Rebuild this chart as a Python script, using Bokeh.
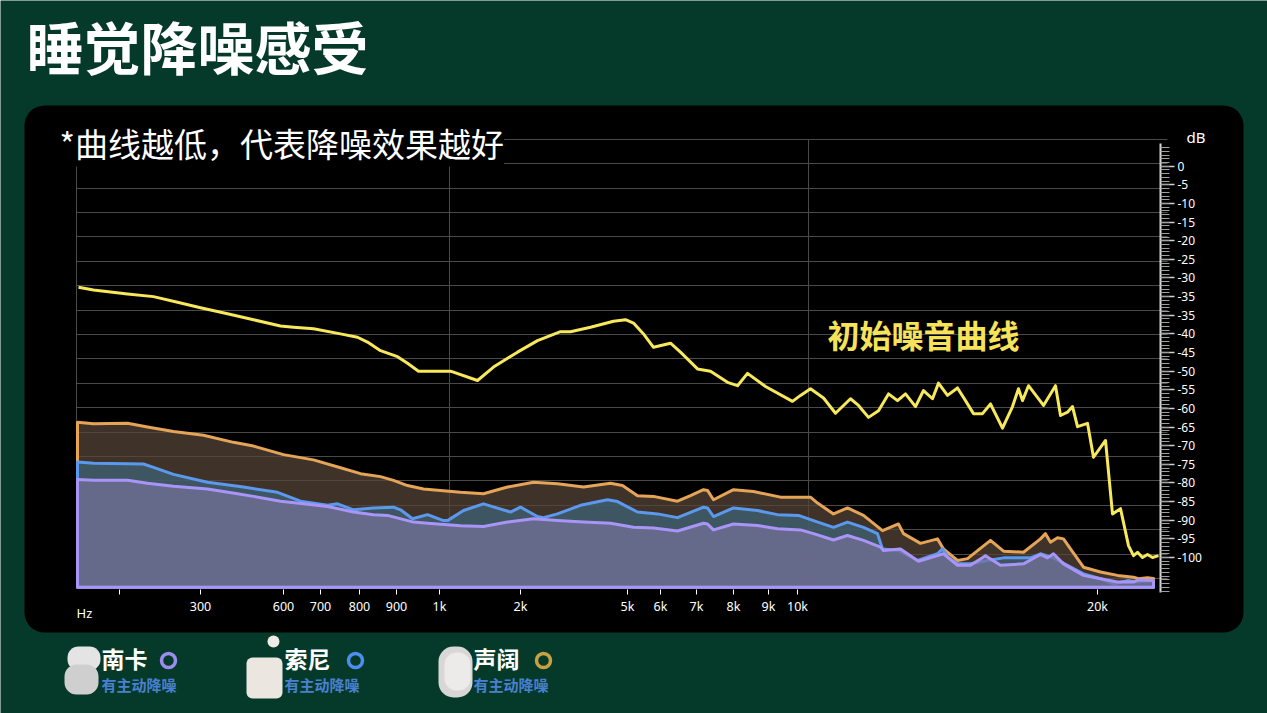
import re
from bokeh.plotting import figure
from bokeh.models import FixedTicker, Label, BoxAnnotation, Range1d
from bokeh.embed import file_html
from bokeh.resources import INLINE

# ---------------- data (x = position along the frequency axis, value = dB) ----------------
X_TICKS = [43, 124, 207, 244, 283, 320, 363, 444, 551, 584, 620, 657, 692, 721, 1021]
X_TICK_LABELS = ["", "300", "600", "700", "800", "900", "1k", "2k", "5k", "6k", "7k", "8k", "9k", "10k", "20k"]
X_GRID = [0, 373, 732]

Y_TICKS = [5, 0, -5, -10, -15, -20, -25, -30, -35, -40, -45, -50, -55, -60, -65, -70,
           -75, -80, -85, -90, -95, -100]
Y_TICK_LABELS = ["0", "-5", "-10", "-15", "-20", "-25", "-30", "-35", "-35", "-40", "-45",
                 "-50", "-55", "-60", "-65", "-70", "-75", "-80", "-85", "-90", "-95", "-100"]

# 初始噪音曲线 (yellow)
YEL_X = [2, 17, 51, 77, 101, 124, 151, 177, 204, 217, 237, 264, 281, 291, 304, 321, 331, 342, 361, 374,
         401, 417, 441, 461, 484, 494, 514, 537, 549, 557, 567, 577, 594, 604, 621, 634, 651, 661, 671, 689,
         716, 724, 734, 747, 759, 774, 782, 792, 802, 812, 821, 829, 839, 847, 856, 862, 871, 881, 889, 897,
         906, 914, 926, 936, 942, 946, 952, 967, 979, 984, 991, 996, 1001, 1011, 1017, 1029, 1036, 1044, 1052, 1057,
         1061, 1066, 1071, 1076, 1082]
YEL_DB = [-27.5, -28.2, -29.3, -30.0, -31.5, -33.0, -34.6, -36.2, -37.9, -38.2,
          -38.6, -40.0, -40.9, -42.2, -44.5, -46.1, -47.9, -50.0, -50.0, -50.0,
          -52.5, -48.9, -44.9, -41.8, -39.4, -39.4, -38.2, -36.6, -36.2, -37.1,
          -40.0, -43.6, -42.5, -44.9, -49.4, -50.0, -53.0, -53.9, -50.6, -54.1,
          -58.1, -56.5, -54.7, -57.2, -61.3, -57.4, -59.2, -62.4, -60.6, -56.1,
          -57.9, -56.1, -59.5, -55.2, -57.4, -53.2, -56.5, -54.5, -57.9, -61.4,
          -61.4, -58.8, -65.3, -59.5, -54.7, -57.9, -53.9, -59.2, -53.9, -61.9,
          -61.0, -59.5, -64.9, -64.0, -73.1, -68.6, -88.3, -86.9, -96.8, -99.5,
          -98.6, -100.0, -99.2, -100.0, -99.5]

# 声阔 (orange)
ORG_X = [1, 17, 51, 71, 97, 127, 157, 177, 207, 237, 264, 284, 304, 317, 331, 347, 364, 384, 407, 431,
         457, 481, 507, 534, 546, 561, 577, 601, 614, 627, 631, 637, 657, 677, 704, 724, 734, 741, 757, 771,
         787, 806, 822, 827, 844, 861, 867, 881, 891, 914, 927, 947, 964, 969, 974, 981, 987, 994, 1007, 1024,
         1041, 1057, 1062, 1071, 1077]
ORG_DB = [-63.7, -64.1, -64.0, -65.0, -66.2, -67.2, -69.1, -70.1, -72.4, -73.8,
          -75.9, -77.5, -78.3, -79.3, -80.7, -81.6, -82.0, -82.5, -82.9, -81.1,
          -79.8, -80.2, -81.1, -80.1, -80.7, -83.4, -83.6, -84.9, -83.4, -81.8,
          -82.0, -84.5, -81.8, -82.3, -83.8, -83.8, -83.8, -85.4, -88.3, -86.7,
          -88.7, -92.8, -91.0, -93.6, -96.2, -95.0, -97.7, -100.8, -100.3, -95.4,
          -98.3, -98.6, -95.0, -93.6, -95.9, -94.7, -95.0, -97.7, -102.6, -103.9,
          -104.8, -105.3, -105.7, -105.4, -105.6]

# 索尼 (blue)
BLU_X = [1, 17, 67, 77, 97, 131, 167, 201, 224, 251, 261, 277, 297, 317, 324, 336, 351, 367, 371, 387,
         407, 434, 444, 461, 467, 481, 504, 531, 541, 561, 581, 601, 627, 631, 637, 657, 681, 701, 722, 737,
         757, 771, 787, 801, 806, 822, 841, 861, 866, 872, 881, 894, 911, 927, 954, 964, 977, 991, 1007, 1024,
         1037, 1051, 1061, 1077]
BLU_DB = [-74.4, -74.7, -74.9, -75.8, -77.7, -79.8, -81.1, -82.5, -84.9, -86.0,
          -85.6, -87.2, -86.7, -86.5, -87.2, -89.6, -88.5, -90.1, -90.1, -87.4,
          -85.6, -87.8, -86.5, -89.0, -89.3, -88.3, -86.0, -84.5, -85.0, -87.8,
          -88.3, -89.3, -86.5, -86.7, -89.0, -86.7, -87.4, -88.5, -88.7, -90.1,
          -91.9, -90.5, -91.9, -93.6, -97.7, -98.1, -100.8, -99.0, -97.7, -100.1,
          -101.7, -101.7, -100.8, -100.1, -100.1, -99.0, -100.1, -102.1, -104.4, -105.7,
          -107.1, -106.2, -106.6, -106.2]

# 南卡 (purple)
PUR_X = [1, 17, 51, 71, 97, 131, 161, 177, 204, 227, 251, 277, 297, 311, 337, 351, 371, 384, 407, 431,
         457, 481, 507, 534, 557, 577, 601, 627, 631, 637, 657, 681, 701, 724, 737, 757, 771, 787, 804, 807,
         824, 842, 861, 867, 881, 894, 909, 924, 947, 964, 971, 977, 987, 1007, 1024, 1041, 1057, 1062, 1077]
PUR_DB = [-79.1, -79.3, -79.3, -80.1, -80.9, -81.6, -82.9, -83.6, -84.9, -85.6,
          -86.3, -87.8, -88.5, -88.7, -90.5, -90.8, -91.2, -91.5, -91.7, -90.5,
          -89.6, -90.1, -90.5, -90.8, -91.9, -92.1, -92.9, -90.8, -91.0, -92.6,
          -91.0, -91.4, -92.3, -92.6, -93.6, -95.3, -94.1, -95.4, -97.2, -98.1,
          -97.7, -101.0, -99.5, -99.0, -102.1, -102.1, -99.5, -102.1, -101.7, -99.2,
          -100.1, -99.0, -101.7, -104.8, -105.7, -106.6, -106.6, -106.0, -106.2]

BASE_DB = -108.0

BRANDS = ["南卡", "索尼", "声阔"]
BRAND_NOTE = "有主动降噪"

# ---------------- styling / layout ----------------
W, H = 1267, 713
GREEN = "#053a2b"
CJK = "Noto Sans CJK SC"
YELLOW = "#f8e85b"
ORANGE_LINE, ORANGE_FILL = "#e6a456", "#574739"
BLUE_LINE, BLUE_FILL = "#5b98ee", "#3e6477"
PURPLE_LINE, PURPLE_FILL = "#a995f7", "#74709a"

X_MIN, X_MAX = 0, 1084          # extent of the chart's frequency axis
Y_BOT, Y_TOP = -109.4, 12.2     # extent of the chart's dB axis
X_AXIS_AT = -108.6
PX_PER_DB = 3.7267
# the canvas maps 1:1 to pixels; chart origin sits at pixel (76, 557 for -100 dB)
x_range = Range1d(-76, W - 76)
y_range = Range1d(-100 - (H - 557) / PX_PER_DB, -100 + 557 / PX_PER_DB)

p = figure(width=W, height=H, x_range=x_range, y_range=y_range,
           output_backend="svg", toolbar_location=None, y_axis_location="right",
           min_border=0, min_border_left=0, min_border_right=0, min_border_top=0, min_border_bottom=0,
           background_fill_color=GREEN, border_fill_color=GREEN, outline_line_color=None)

CU = dict(left_units="canvas", right_units="canvas", top_units="canvas", bottom_units="canvas")

# black rounded card
p.add_layout(BoxAnnotation(left=24, right=1243, top=105, bottom=632, border_radius=20,
                           fill_color="black", fill_alpha=1, line_color=None, level="image", **CU))

# grids
p.xgrid.ticker = FixedTicker(ticks=X_GRID)
p.xgrid.grid_line_color = "#4a4a4a"
p.xgrid.bounds = (X_MIN, X_MAX)
grid_y = [Y_TOP - 6.547 * k for k in range(19)]
p.ygrid.ticker = FixedTicker(ticks=grid_y)
p.ygrid.grid_line_color = "#4a4a4a"
p.ygrid.bounds = (Y_BOT, Y_TOP + 0.1)
try:
    p.xgrid.cross_bounds = (Y_BOT + 4, Y_TOP)
    p.ygrid.cross_bounds = (X_MIN, X_MAX + 7)
except Exception:
    pass

# areas
for xs, ys, lc, fc in [(ORG_X, ORG_DB, ORANGE_LINE, ORANGE_FILL),
                       (BLU_X, BLU_DB, BLUE_LINE, BLUE_FILL),
                       (PUR_X, PUR_DB, PURPLE_LINE, PURPLE_FILL)]:
    px = list(xs) + [xs[-1], xs[0]]
    py = list(ys) + [BASE_DB, BASE_DB]
    p.patch(px, py, fill_color=fc, fill_alpha=0.72, line_color=lc, line_width=3, line_join="round")

p.line(YEL_X, YEL_DB, line_color=YELLOW, line_width=3, line_join="round")

# x axis (drawn at the chart bottom)
xa = p.xaxis[0]
xa.fixed_location = X_AXIS_AT
xa.bounds = (X_MIN, X_MAX)
xa.ticker = FixedTicker(ticks=X_TICKS, minor_ticks=[])
xa.major_label_overrides = {t: l for t, l in zip(X_TICKS, X_TICK_LABELS)}
xa.axis_line_color = None
xa.major_tick_line_color = "white"
xa.major_tick_out = 5
xa.major_tick_in = 0
xa.minor_tick_line_color = None
xa.major_label_text_color = "white"
xa.major_label_text_font = "Noto Sans"
xa.major_label_text_font_size = "12.5px"
xa.major_label_standoff = 3

# y axis (drawn at the chart right edge)
ya = p.yaxis[0]
ya.fixed_location = X_MAX
ya.bounds = (Y_BOT, 11.0)
ya.ticker = FixedTicker(ticks=Y_TICKS, minor_ticks=list(range(-109, 11)))
ya.major_label_overrides = {t: l for t, l in zip(Y_TICKS, Y_TICK_LABELS)}
ya.axis_line_color = "#d8d8d8"
ya.axis_line_width = 2
ya.major_tick_line_color = "#d0d0d0"
ya.major_tick_line_width = 1.5
ya.major_tick_out = 14
ya.major_tick_in = 0
ya.minor_tick_line_color = "#a0a0a0"
ya.minor_tick_out = 9
ya.minor_tick_in = 0
ya.major_label_text_color = "white"
ya.major_label_text_font = "Noto Sans"
ya.major_label_text_font_size = "12px"
ya.major_label_standoff = 3

def lab(text, x, y, size, color="white", style="normal", font=CJK, **kw):
    p.add_layout(Label(x=x, y=y, x_units="canvas", y_units="canvas", text=text,
                       text_font=font, text_font_size=size, text_color=color,
                       text_font_style=style, text_align="left", text_baseline="middle", **kw))

lab("睡觉降噪感受", 26, 44, "57px", style="bold")
lab("*曲线越低，代表降噪效果越好", 59, 142, "33px", background_fill_color="black")
lab("初始噪音曲线", 827, 333, "32px", color="#f6e35a", style="bold")
lab("dB", 1186, 136, "15px", font="Noto Sans")
lab("Hz", 76, 612, "13px", font="Noto Sans")

# legend (product pictograms, brand names, colour rings)
SHAPES = [dict(left=67, right=100, top=646, bottom=670, border_radius=11, fill_color="#e4e4e4"),
          dict(left=64, right=98, top=664, bottom=694, border_radius=12, fill_color="#cfcfcf"),
          dict(left=246, right=282, top=657, bottom=698, border_radius=6, fill_color="#ece6e0"),
          dict(left=267, right=279, top=635, bottom=647, border_radius=6, fill_color="#efebe6"),
          dict(left=438, right=472, top=646, bottom=697, border_radius=15, fill_color="#d9d7d5"),
          dict(left=444, right=470, top=652, bottom=690, border_radius=12, fill_color="#ecebe9")]
RING_COLORS = ["#9d8cf0", "#4d8ff0", "#c9a042"]
TEXT_LEFT = [101, 284, 473]
RING_CX = [168, 355, 543]
for s in SHAPES:
    p.add_layout(BoxAnnotation(line_color=None, fill_alpha=1, **s, **CU))
for i in range(3):
    lab(BRANDS[i], TEXT_LEFT[i], 657, "23px", style="bold")
    lab(BRAND_NOTE, TEXT_LEFT[i], 684, "15px", color="#4a80d0", style="bold")
    p.add_layout(BoxAnnotation(left=RING_CX[i] - 7, right=RING_CX[i] + 7, top=653, bottom=667,
                               fill_alpha=0, line_color=RING_COLORS[i], line_alpha=1, line_width=3.5,
                               border_radius=7, **CU))

html = file_html(p, INLINE)
html = re.sub(r"<body([^>]*)>", r'<body\1 style="background-color:%s;">' % GREEN, html, count=1)
open("out.html", "w").write(html)
